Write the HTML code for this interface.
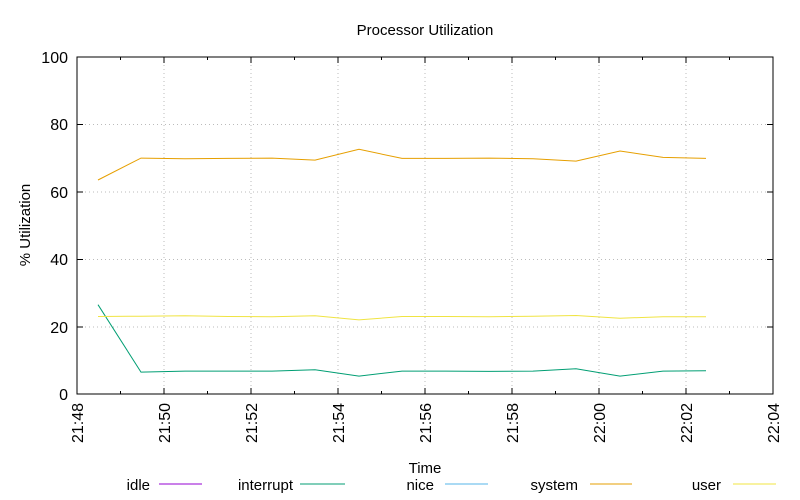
<!DOCTYPE html>
<html><head><style>body{margin:0;background:#fff}svg{display:block;font-family:"Liberation Sans",sans-serif}</style></head>
<body>
<svg width="800" height="500" viewBox="0 0 800 500" xmlns="http://www.w3.org/2000/svg">
<rect width="800" height="500" fill="#fff"/>
<g stroke="#bbb" stroke-width="1" stroke-dasharray="1,3">
<line x1="77" y1="327" x2="773" y2="327"/><line x1="77" y1="259.5" x2="773" y2="259.5"/>
<line x1="77" y1="192" x2="773" y2="192"/><line x1="77" y1="124.5" x2="773" y2="124.5"/>
<line x1="164" y1="57" x2="164" y2="394"/><line x1="251" y1="57" x2="251" y2="394"/>
<line x1="338" y1="57" x2="338" y2="394"/><line x1="425" y1="57" x2="425" y2="394"/>
<line x1="512" y1="57" x2="512" y2="394"/><line x1="599" y1="57" x2="599" y2="394"/>
<line x1="686" y1="57" x2="686" y2="394"/>
</g>
<g fill="none" stroke-width="1">
<polyline stroke="#56b4e9" points="98,394 706,394"/>
<polyline stroke="#9400d3" points="98,394 706,394"/>
<polyline stroke="#009e73" points="98,304.7 141,372.1 185,371.1 228,371.1 272,371.1 315,369.7 359,376.1 402,371.1 446,371.1 489,371.4 533,371.1 576,368.7 620,376.1 663,371.1 706,370.7"/>
<polyline stroke="#e69f00" points="98,180 141,158.1 185,158.8 228,158.4 272,158.1 315,160.1 359,149.3 402,158.4 446,158.4 489,158.1 533,158.8 576,161.1 620,151 663,157.4 706,158.4"/>
<polyline stroke="#f0e442" points="98,316.5 141,316.2 185,315.8 228,316.5 272,316.8 315,315.8 359,319.9 402,316.5 446,316.5 489,316.8 533,316.2 576,315.5 620,318.2 663,316.8 706,316.8"/>
</g>
<rect x="77" y="57" width="696" height="337" fill="none" stroke="#000" stroke-width="1"/>
<g stroke="#000" stroke-width="1">
<path d="M77 394h6M77 327h6M77 259.5h6M77 192h6M77 124.5h6M77 57h6M773 394h-6M773 327h-6M773 259.5h-6M773 192h-6M773 124.5h-6M773 57h-6"/>
<path d="M164 394v-6M251 394v-6M338 394v-6M425 394v-6M512 394v-6M599 394v-6M686 394v-6M164 57v6M251 57v6M338 57v6M425 57v6M512 57v6M599 57v6M686 57v6"/>
<path d="M120.5 394v-3M207.5 394v-3M294.5 394v-3M381.5 394v-3M468.5 394v-3M555.5 394v-3M642.5 394v-3M729.5 394v-3M120.5 57v3M207.5 57v3M294.5 57v3M381.5 57v3M468.5 57v3M555.5 57v3M642.5 57v3M729.5 57v3"/>
</g>
<g font-size="16" text-anchor="end" fill="#000">
<text x="68" y="400">0</text><text x="68" y="333">20</text><text x="68" y="265">40</text>
<text x="68" y="198">60</text><text x="68" y="130">80</text><text x="68" y="63">100</text>
</g>
<g font-size="16" text-anchor="end" fill="#000">
<text transform="translate(83,403) rotate(-90)">21:48</text>
<text transform="translate(170,403) rotate(-90)">21:50</text>
<text transform="translate(257,403) rotate(-90)">21:52</text>
<text transform="translate(344,403) rotate(-90)">21:54</text>
<text transform="translate(431,403) rotate(-90)">21:56</text>
<text transform="translate(518,403) rotate(-90)">21:58</text>
<text transform="translate(605,403) rotate(-90)">22:00</text>
<text transform="translate(692,403) rotate(-90)">22:02</text>
<text transform="translate(779,403) rotate(-90)">22:04</text>
</g>
<text x="425" y="35" font-size="15" text-anchor="middle">Processor Utilization</text>
<text transform="translate(30,225) rotate(-90)" font-size="15" text-anchor="middle">% Utilization</text>
<text x="425" y="473" font-size="15" text-anchor="middle">Time</text>
<g font-size="15" text-anchor="end" fill="#000">
<text x="150" y="490">idle</text><text x="293" y="490">interrupt</text>
<text x="434" y="490">nice</text><text x="578" y="490">system</text><text x="721" y="490">user</text>
</g>
<g stroke-width="1">
<line x1="159" y1="484" x2="202" y2="484" stroke="#9400d3"/>
<line x1="300" y1="484" x2="345" y2="484" stroke="#009e73"/>
<line x1="445" y1="484" x2="488" y2="484" stroke="#56b4e9"/>
<line x1="590" y1="484" x2="632" y2="484" stroke="#e69f00"/>
<line x1="733" y1="484" x2="776" y2="484" stroke="#f0e442"/>
</g>
</svg>
</body></html>
